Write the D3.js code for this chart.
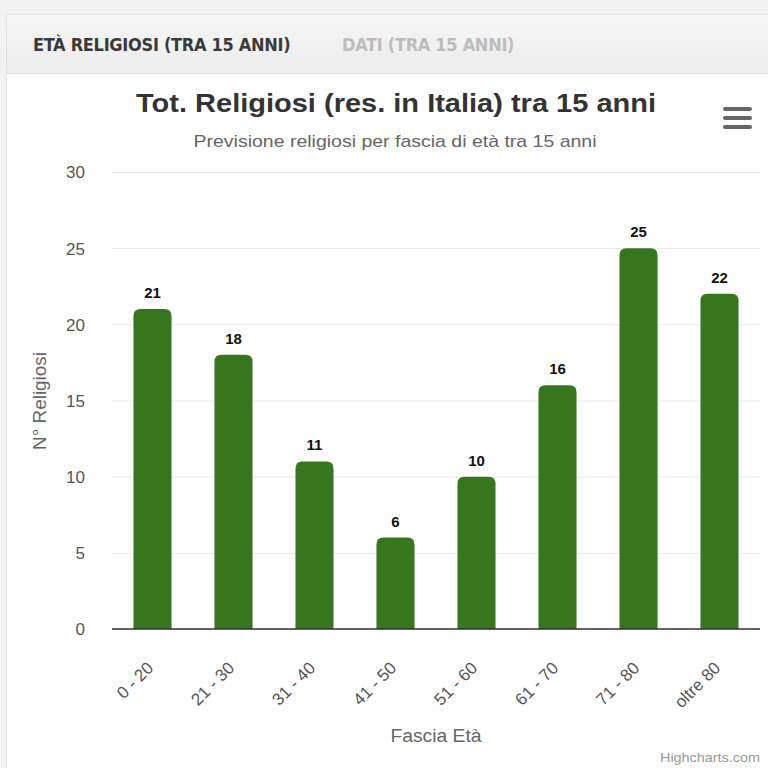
<!DOCTYPE html>
<html>
<head>
<meta charset="utf-8">
<script src="https://d3js.org/d3.v7.min.js"></script>
<style>
  html, body { margin: 0; padding: 0; background: #f2f2f2; }
  body { width: 768px; height: 768px; overflow: hidden; position: relative; }
  #panel {
    position: absolute; left: 6px; top: 14px; width: 770px; height: 760px;
    background: #fff; border: 1px solid #e2e2e2;
  }
  #tabs {
    height: 58px; border-bottom: 1px solid #dcdcdc;
    background: linear-gradient(#f7f7f7, #ececec);
    font-family: "DejaVu Sans Condensed", sans-serif;
    font-weight: bold; font-size: 18px; letter-spacing: -0.3px;
  }
  #tabs span { position: absolute; top: 19px; }
  #tab1 { left: 26px; color: #3a3a3a; }
  #tab2 { left: 335px; color: #bdbdbd; }
  svg { position: absolute; left: 0; top: 0; }
</style>
</head>
<body>
<div id="panel">
  <div id="tabs"><span id="tab1">ETÀ RELIGIOSI (TRA 15 ANNI)</span><span id="tab2">DATI (TRA 15 ANNI)</span></div>
</div>
<svg id="chart" width="768" height="768"></svg>
<script>
var categories = ["0 - 20", "21 - 30", "31 - 40", "41 - 50", "51 - 60", "61 - 70", "71 - 80", "oltre 80"];
var values = [21, 18, 11, 6, 10, 16, 25, 22];
var yTicks = [0, 5, 10, 15, 20, 25, 30];

var svg = d3.select("#chart");
var font = "'Liberation Sans', Arial, sans-serif";
var plotLeft = 112, plotRight = 760, plotTop = 172, plotBottom = 629;

var x = d3.scaleBand().domain(categories).range([plotLeft, plotRight]).paddingInner(0.53).paddingOuter(0.265);
var y = d3.scaleLinear().domain([0, 30]).range([plotBottom, plotTop]);

// title + subtitle
svg.append("text").attr("x", 396).attr("y", 112).attr("text-anchor", "middle")
  .attr("font-family", font).attr("font-size", 26).attr("font-weight", "bold").attr("fill", "#333")
  .attr("textLength", 520).attr("lengthAdjust", "spacingAndGlyphs")
  .text("Tot. Religiosi (res. in Italia) tra 15 anni");
svg.append("text").attr("x", 395).attr("y", 147).attr("text-anchor", "middle")
  .attr("font-family", font).attr("font-size", 17).attr("fill", "#666")
  .attr("textLength", 403).attr("lengthAdjust", "spacingAndGlyphs")
  .text("Previsione religiosi per fascia di età tra 15 anni");

// menu icon
svg.append("g").selectAll("rect").data([0, 1, 2]).enter().append("rect")
  .attr("x", 723).attr("y", function(d) { return 107 + d * 9; })
  .attr("width", 29).attr("height", 4).attr("rx", 2).attr("fill", "#666");

// grid + y labels
var yAxis = svg.append("g").attr("transform", "translate(" + plotLeft + ",0)")
  .call(d3.axisLeft(y).tickValues(yTicks).tickSize(-(plotRight - plotLeft)).tickPadding(27));
yAxis.select(".domain").remove();
yAxis.selectAll(".tick line").attr("stroke", "#e6e6e6");
yAxis.selectAll(".tick text").attr("font-family", font).attr("font-size", 17).attr("fill", "#555").attr("dy", "0.35em");

svg.append("text").attr("transform", "translate(46,401) rotate(-90)").attr("text-anchor", "middle")
  .attr("font-family", font).attr("font-size", 18).attr("fill", "#666")
  .attr("textLength", 98).attr("lengthAdjust", "spacingAndGlyphs").text("N° Religiosi");

// bars with rounded tops
var r = 7;
svg.append("g").selectAll("path").data(values).enter().append("path")
  .attr("fill", "#38761d")
  .attr("d", function(d, i) {
    var x0 = x(categories[i]), w = x.bandwidth(), y0 = y(d);
    return "M" + x0 + "," + plotBottom + "V" + (y0 + r) + "Q" + x0 + "," + y0 + " " + (x0 + r) + "," + y0 +
      "H" + (x0 + w - r) + "Q" + (x0 + w) + "," + y0 + " " + (x0 + w) + "," + (y0 + r) + "V" + plotBottom + "Z";
  });

// data labels
svg.append("g").selectAll("text").data(values).enter().append("text")
  .attr("x", function(d, i) { return x(categories[i]) + x.bandwidth() / 2; })
  .attr("y", function(d) { return y(d) - 11; })
  .attr("text-anchor", "middle").attr("font-family", font).attr("font-size", 15).attr("font-weight", "bold")
  .attr("fill", "#111").attr("stroke", "#fff").attr("stroke-width", 3).attr("paint-order", "stroke")
  .text(function(d) { return d; });

// x axis
var xAxis = svg.append("g").attr("transform", "translate(0," + plotBottom + ")")
  .call(d3.axisBottom(x).tickSize(0).tickPadding(0));
xAxis.select(".domain").attr("stroke", "#333").attr("stroke-width", 1.5).attr("d", "M" + plotLeft + ",0H" + plotRight);
xAxis.selectAll(".tick text")
  .attr("font-family", font).attr("font-size", 17).attr("fill", "#555")
  .attr("text-anchor", "end").attr("dy", 0)
  .attr("transform", "translate(2,40) rotate(-45)");

svg.append("text").attr("x", 436).attr("y", 742).attr("text-anchor", "middle")
  .attr("font-family", font).attr("font-size", 18).attr("fill", "#666")
  .attr("textLength", 91).attr("lengthAdjust", "spacingAndGlyphs").text("Fascia Età");

svg.append("text").attr("x", 760).attr("y", 762).attr("text-anchor", "end")
  .attr("font-family", font).attr("font-size", 13).attr("fill", "#999")
  .attr("textLength", 100).attr("lengthAdjust", "spacingAndGlyphs").text("Highcharts.com");
</script>
</body>
</html>
